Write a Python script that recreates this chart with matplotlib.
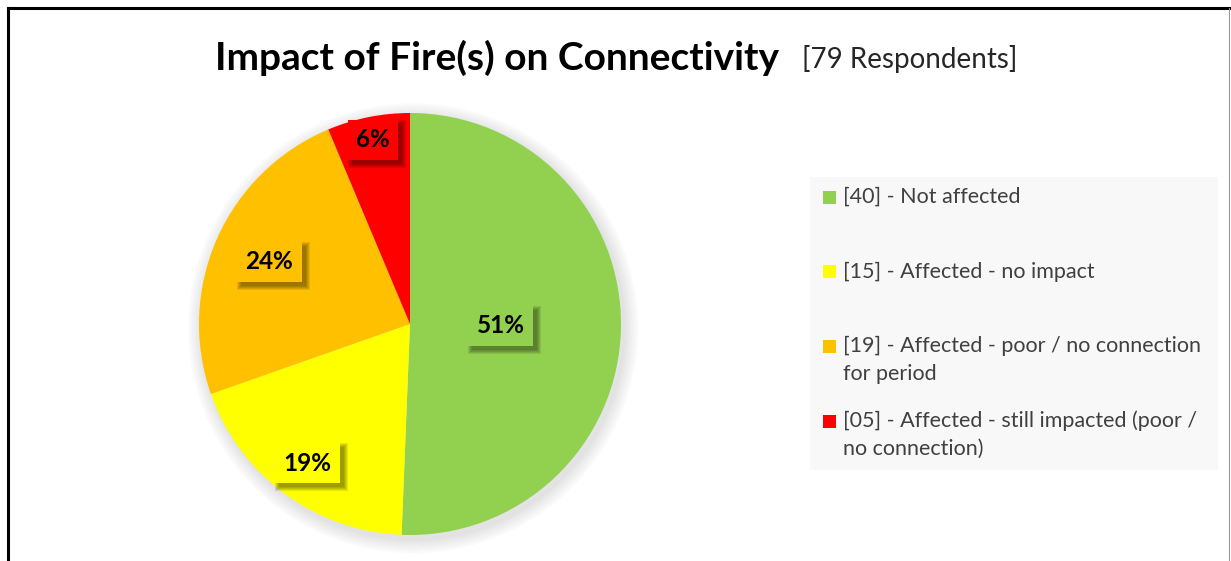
import matplotlib
matplotlib.use("Agg")
import matplotlib.pyplot as plt
from matplotlib.patches import Circle, Rectangle
from matplotlib.lines import Line2D
import matplotlib.transforms as mtransforms
import numpy as np

plt.rcParams['font.family'] = ['Lato', 'DejaVu Sans']

# data
categories = ["Not affected", "Affected - no impact",
              "Affected - poor / no connection\nfor period",
              "Affected - still impacted (poor /\nno connection)"]
counts = [40, 15, 19, 5]
colors = ["#92D050", "#FFFF00", "#FFC000", "#FF0000"]
label_r = [0.43, 0.82, 0.73, 0.89]   # where Excel put each data label

W, H = 1231, 561
fig = plt.figure(figsize=(W / 100, H / 100), dpi=100)
fig.patch.set_facecolor("white")

# frame around the chart (bottom is cut off in the source)
fig.add_artist(Line2D([8 / W, 8 / W], [0, 1 - 8 / H], color="black", lw=2.2,
                      transform=fig.transFigure))
fig.add_artist(Line2D([8 / W, 1229 / W], [1 - 8 / H, 1 - 8 / H], color="black", lw=2.2,
                      transform=fig.transFigure))
fig.add_artist(Line2D([1229 / W, 1229 / W], [0, 1 - 8 / H], color="#999999", lw=0.8,
                      transform=fig.transFigure))

# title
fig.text(215 / W, 1 - 70 / H, "Impact of Fire(s) on Connectivity", fontsize=28,
         fontweight="bold", color="black", ha="left", va="baseline")
fig.text(802 / W, 1 - 68 / H, "[79 Respondents]", fontsize=20, color="#262626",
         ha="left", va="baseline")

# pie
cx, cy, r = 410, 324, 211
ax = fig.add_axes([(cx - r) / W, (H - cy - r) / H, 2 * r / W, 2 * r / H])

for k in range(14):
    ax.add_patch(Circle((0.015, -0.02), 1 + 0.005 * k, color="black", alpha=0.008,
                        zorder=0, clip_on=False))

wedges, _ = ax.pie(counts, colors=colors, startangle=90, counterclock=False,
                   radius=1, wedgeprops=dict(linewidth=0))
for w in wedges:
    w.set_zorder(2)
ax.set_xlim(-1, 1)
ax.set_ylim(-1, 1)
ax.set_aspect("equal")
ax.axis("off")

total = sum(counts)
labels = []
for w, n, c, lr in zip(wedges, counts, colors, label_r):
    ang = np.deg2rad((w.theta1 + w.theta2) / 2)
    x, y = lr * np.cos(ang), lr * np.sin(ang)
    t = ax.text(x, y, f"{round(100 * n / total)}%", ha="center", va="center",
                fontsize=17.5, fontweight="bold", color="black", zorder=4,
                bbox=dict(boxstyle="square,pad=0.35", facecolor=c, edgecolor="none"))
    labels.append(t)

# soft drop shadows behind the data labels
fig.canvas.draw()
for t in labels:
    bb = t.get_bbox_patch().get_window_extent()
    for k in range(5):
        ax.add_patch(Rectangle((bb.x0 + 4 - k, bb.y0 - 4 - k), bb.width + 2 * k,
                               bb.height + 2 * k, transform=mtransforms.IdentityTransform(),
                               facecolor="black", alpha=0.09, edgecolor="none", zorder=3,
                               clip_on=False))

# legend
fig.add_artist(Rectangle((810 / W, 1 - 470 / H), 408 / W, 293 / H, transform=fig.transFigure,
                         facecolor="#F8F8F8", edgecolor="none"))
for i, (name, n, c) in enumerate(zip(categories, counts, colors)):
    ty = 197 + 74.7 * i
    fig.add_artist(Rectangle((823 / W, 1 - (ty + 6.5) / H), 13 / W, 13 / H,
                             transform=fig.transFigure, facecolor=c, edgecolor="none"))
    lines = f"[{n:02d}] - {name}".split("\n")
    for j, line in enumerate(lines):
        fig.text(843 / W, 1 - (ty + 28 * j) / H, line, fontsize=15.5, color="#404040",
                 ha="left", va="center")

fig.savefig("out.png", dpi=100)
